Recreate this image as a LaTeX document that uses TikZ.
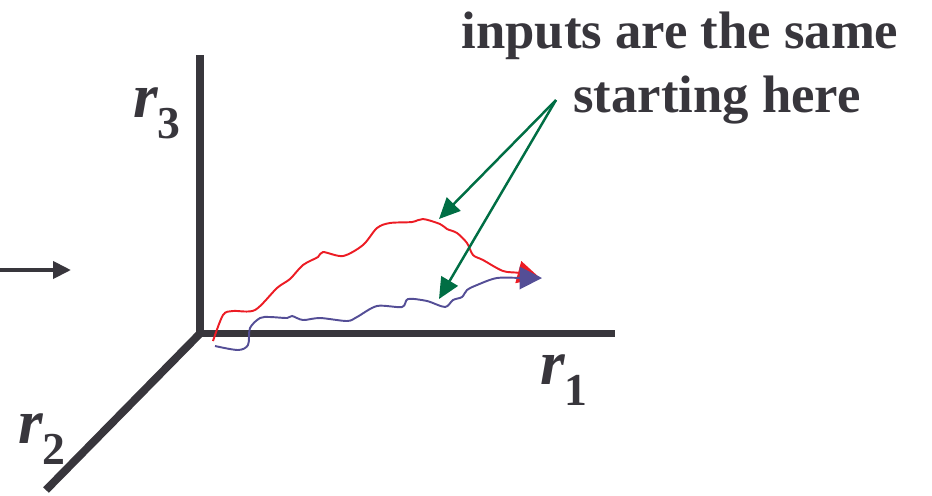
\documentclass[tikz,border=0pt]{standalone}
\usepackage{fontspec}
\setmainfont{Liberation Serif}
\usetikzlibrary{arrows.meta}
\definecolor{axisgray}{RGB}{56,54,60}
\definecolor{curvered}{RGB}{236,28,36}
\definecolor{curveblue}{RGB}{84,78,150}
\definecolor{arrowgreen}{RGB}{0,110,68}
\tikzset{
  axis/.style={draw=axisgray,line width=4.5pt},
  axislabel/.style={anchor=base west,inner sep=0pt,text=axisgray,font=\fontsize{36}{40}\selectfont\bfseries\itshape},
  traj/.style={line width=1.1pt,draw=#1,-{Triangle[length=4.5mm,width=4.5mm,fill=#1]}},
  pointer/.style={line width=1.4pt,draw=arrowgreen,-{Triangle[length=4.2mm,width=3.8mm]}},
  note/.style={align=center,text=axisgray,font=\fontsize{30}{36}\selectfont\bfseries},
}
\newcommand{\axsub}[1]{\raisebox{-0.34em}{\upshape\fontsize{26}{28}\selectfont #1}}
\begin{document}
\begin{tikzpicture}[x=0.02cm,y=-0.02cm]
  \useasboundingbox (0,0) rectangle (932,495);
  % axes
  \coordinate (o) at (200,333.5);
  \coordinate (e1) at (615,333.5);
  \coordinate (e2) at (46,490);
  \coordinate (e3) at (200,55);
  \draw[axis] (e3) -- (o) -- (e1);
  \draw[axis] (o) -- (e2);
  \node[axislabel] (r3lab) at (133,117) {r\axsub{3}};
  \node[axislabel] (r1lab) at (540,384) {r\axsub{1}};
  \node[axislabel] (r2lab) at (18,443) {r\axsub{2}};
  % input arrow
  \coordinate (in0) at (0,270);
  \coordinate (in1) at (71,270);
  \draw[draw=axisgray,line width=2.3pt,-{Triangle[length=3.6mm,width=3.4mm]}] (in0) -- (in1);
  % trajectories
  \draw[traj=curvered] plot[smooth,tension=0.5] coordinates {
    (213,341) (223,315) (233,311) (255,310) (277,288) (290,279) (303,265)
    (318,257) (323,252) (343,256) (363,245) (377,228) (390,223) (412,222)
    (423,219) (440,224) (447,229) (457,233) (467,243) (473,255) (483,260)
    (503,271) (520,273) (540,278)};
  \draw[traj=curveblue] plot[smooth,tension=0.5] coordinates {
    (215,346) (238,350) (248,345) (250,328) (260,318) (270,317) (287,318)
    (292,316) (303,320) (320,318) (347,321) (357,317) (377,306) (402,307)
    (408,299) (427,301) (445,307) (453,300) (462,297) (467,290) (477,285)
    (497,278) (523,278) (542,278)};
  % note
  \node[note] (msg) at (680,68) {inputs are the same\\\hspace*{1.4em}starting here};
  \coordinate (src) at (556,100);
  \coordinate (redtop) at (439,219);
  \coordinate (bluetop) at (439,299);
  \draw[pointer] (src) -- (redtop);
  \draw[pointer] (src) -- (bluetop);
\end{tikzpicture}
\end{document}
